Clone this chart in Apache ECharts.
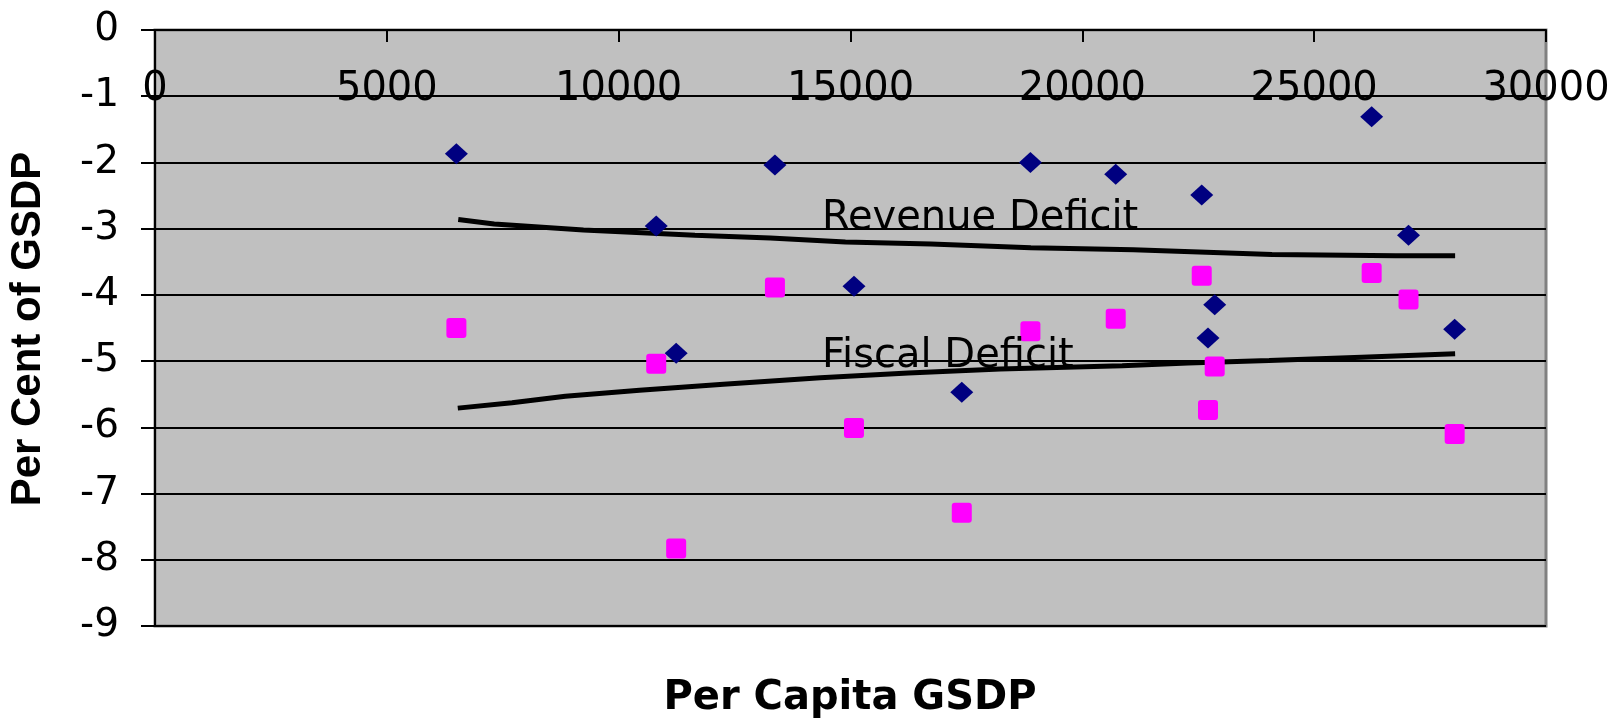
<!DOCTYPE html>
<html>
<head>
<meta charset="utf-8">
<title>Deficits vs Per Capita GSDP</title>
<script src="https://cdn.jsdelivr.net/npm/echarts@6/dist/echarts.min.js"></script>
<style>
  html, body { margin: 0; padding: 0; background: #ffffff; }
  #chart { width: 1616px; height: 721px; }
</style>
</head>
<body>
<div id="chart"></div>
<script>
// Per capita GSDP of each state (shared x for both deficit series)
const perCapitaGsdp = [6500, 10810, 11240, 13370, 15075, 17400, 18880, 20720, 22575, 22710, 22855, 26240, 27035, 28030];
// Revenue deficit, per cent of GSDP
const revenueDeficit = [-1.87, -2.96, -4.88, -2.04, -3.87, -5.47, -2.00, -2.18, -2.49, -4.65, -4.15, -1.31, -3.10, -4.52];
// Fiscal deficit, per cent of GSDP
const fiscalDeficit = [-4.50, -5.04, -7.83, -3.89, -6.01, -7.29, -4.55, -4.36, -3.71, -5.74, -5.08, -3.67, -4.07, -6.10];

// Trend curves
const revenueTrendX = [6540, 7315, 9240, 11645, 13270, 14890, 16735, 18890, 21100, 24090, 26760, 28040];
const revenueTrendY = [-2.86, -2.93, -3.02, -3.10, -3.14, -3.20, -3.23, -3.29, -3.32, -3.39, -3.41, -3.41];
const fiscalTrendX = [6530, 7700, 8850, 10450, 12260, 14350, 16245, 18230, 20860, 22280, 24030, 26025, 28040];
const fiscalTrendY = [-5.71, -5.63, -5.53, -5.44, -5.35, -5.25, -5.18, -5.12, -5.07, -5.03, -4.99, -4.94, -4.89];

// Axis ticks
const xTicks = [0, 5000, 10000, 15000, 20000, 25000, 30000];
const yTicks = [0, -1, -2, -3, -4, -5, -6, -7, -8, -9];

// Curve captions: text, anchor [x, y] in data units
const curveCaptions = [
  ['Revenue Deficit', [14385, -2.845]],
  ['Fiscal Deficit', [14385, -4.935]]
];

const FONT = '"DejaVu Sans", "Liberation Sans", Arial, sans-serif';
const FONT_ARIAL = '"Liberation Sans", Arial, sans-serif';
const pairs = (xs, ys) => xs.map((x, i) => [x, ys[i]]);

const chart = echarts.init(document.getElementById('chart'), null, { renderer: 'canvas' });

const option = {
  animation: false,
  backgroundColor: '#ffffff',
  grid: {
    left: 155, top: 30, width: 1391, height: 596,
    show: true,
    backgroundColor: '#c0c0c0',
    borderColor: '#808080',
    borderWidth: 3
  },
  xAxis: {
    type: 'value',
    position: 'top',
    min: xTicks[0], max: xTicks[xTicks.length - 1], interval: 5000,
    axisLine: { show: true, onZero: false, lineStyle: { color: '#000', width: 2 } },
    axisTick: { show: true, inside: true, length: 12, lineStyle: { color: '#000', width: 2 } },
    axisLabel: {
      inside: true, margin: 60, verticalAlign: 'middle',
      color: '#000', fontFamily: FONT, fontSize: 40,
      showMinLabel: true, showMaxLabel: true,
      formatter: (v) => String(v)
    },
    splitLine: { show: false }
  },
  yAxis: {
    type: 'value',
    min: yTicks[yTicks.length - 1], max: yTicks[0], interval: 1,
    axisLine: { show: true, lineStyle: { color: '#000', width: 2 } },
    axisTick: { show: true, inside: false, length: 14, lineStyle: { color: '#000', width: 2 } },
    axisLabel: { margin: 36, color: '#000', fontFamily: FONT, fontSize: 39, formatter: (v) => String(v) },
    splitLine: { show: true, lineStyle: { color: '#000', width: 2 } }
  },
  series: [
    {
      name: 'Revenue Deficit trend',
      type: 'line',
      data: pairs(revenueTrendX, revenueTrendY),
      showSymbol: false,
      symbol: 'none',
      lineStyle: { color: '#000', width: 5 },
      z: 3
    },
    {
      name: 'Fiscal Deficit trend',
      type: 'line',
      data: pairs(fiscalTrendX, fiscalTrendY),
      showSymbol: false,
      symbol: 'none',
      lineStyle: { color: '#000', width: 5 },
      z: 3
    },
    {
      name: 'Revenue Deficit',
      type: 'scatter',
      data: pairs(perCapitaGsdp, revenueDeficit),
      symbol: 'diamond',
      symbolSize: [23, 21],
      itemStyle: { color: '#000080', opacity: 1 },
      z: 4
    },
    {
      name: 'Fiscal Deficit',
      type: 'scatter',
      data: pairs(perCapitaGsdp, fiscalDeficit),
      symbol: 'path://M3,0H17Q20,0 20,3V17Q20,20 17,20H3Q0,20 0,17V3Q0,0 3,0Z',
      symbolSize: [20, 20],
      itemStyle: { color: '#ff00ff', opacity: 1 },
      z: 4
    }
  ]
};

chart.setOption(option);

// Captions and axis titles
const graphics = curveCaptions.map(([text, anchor]) => {
  const p = chart.convertToPixel({ gridIndex: 0 }, anchor);
  return {
    type: 'text', x: p[0], y: p[1], z: 10,
    style: { text, font: '40px ' + FONT, fill: '#000', align: 'left', verticalAlign: 'middle' }
  };
});
graphics.push({
  type: 'text', x: 850, y: 699, z: 10,
  style: { text: 'Per Capita GSDP', font: 'bold 40px ' + FONT, fill: '#000', align: 'center', verticalAlign: 'middle' }
});
graphics.push({
  type: 'text', x: 28, y: 329, rotation: Math.PI / 2, z: 10,
  style: { text: 'Per Cent of GSDP', font: 'bold 42px ' + FONT_ARIAL, fill: '#000', align: 'center', verticalAlign: 'middle' }
});
chart.setOption({ graphic: graphics });
</script>
</body>
</html>
